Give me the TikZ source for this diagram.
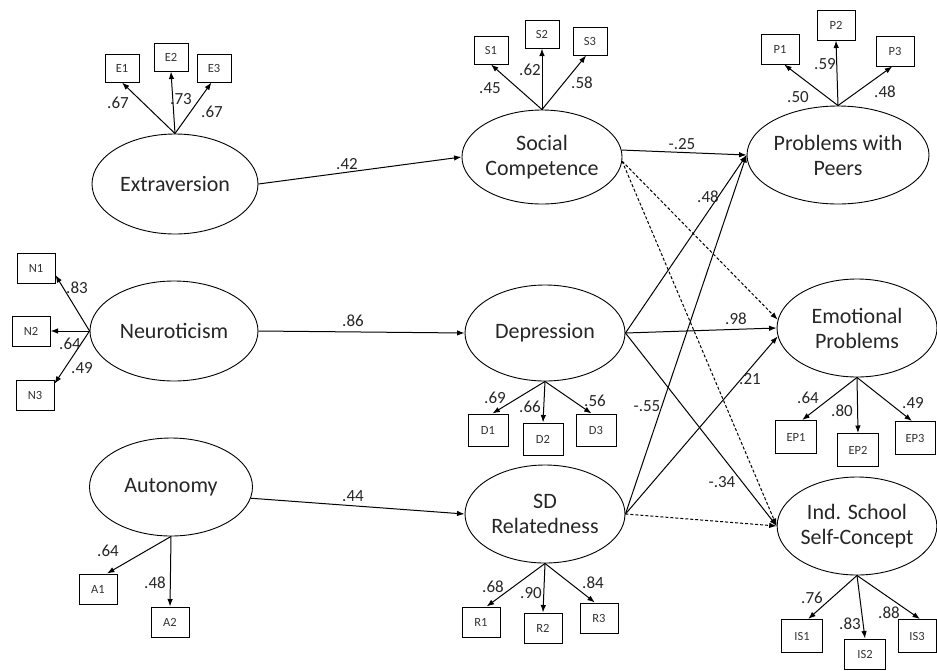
\documentclass[tikz,border=0pt]{standalone}
\usepackage{fontspec}
\setmainfont{Carlito}
\usetikzlibrary{arrows.meta,shapes.geometric}
\begin{document}
\begin{tikzpicture}[x=1pt,y=-1pt,
  lat/.style={draw, ellipse, inner sep=0pt, align=center, line width=0.9pt,
    text=black!85, font=\fontsize{22}{25}\selectfont},
  ind/.style={draw, rectangle, inner sep=0pt, line width=1pt, text=black!80,
    minimum width=38pt, minimum height=30pt, font=\fontsize{12.5}{14}\selectfont},
  sind/.style={ind, minimum width=34pt, minimum height=28pt},
  bind/.style={ind, minimum width=41pt, minimum height=33pt},
  lab/.style={inner sep=0pt, text=black!85, font=\fontsize{17}{19}\selectfont},
  arr/.style={-{Latex[length=7.5pt,width=5.5pt]}, line width=1pt},
  darr/.style={arr, dash pattern=on 3pt off 2pt}]
\useasboundingbox (0,0) rectangle (937,670);

% latent variables
\node[lat, minimum width=166pt, minimum height=100pt] (ext) at (175,184) {Extraversion};
\node[lat, minimum width=168pt, minimum height=100pt] (neu) at (174,331) {Neuroticism};
\node[lat, minimum width=163pt, minimum height=98pt] (aut) at (171,487) {Autonomy};
\node[lat, minimum width=160pt, minimum height=94pt] (sc) at (542,157) {Social\\Competence};
\node[lat, minimum width=160pt, minimum height=96pt] (dep) at (545,333) {Depression};
\node[lat, minimum width=160pt, minimum height=98pt] (sd) at (545,514) {SD\\Relatedness};
\node[lat, minimum width=162pt, minimum height=98pt] (pwp) at (838,155) {Problems with\\Peers};
\node[lat, minimum width=160pt, minimum height=98pt] (ep) at (857,328) {Emotional\\Problems};
\node[lat, minimum width=158pt, minimum height=98pt] (is) at (857,526) {Ind. School\\Self-Concept};

% indicators
\node[sind] (E1) at (122,68) {E1};
\node[sind] (E2) at (171,57) {E2};
\node[sind] (E3) at (214,68) {E3};
\node[sind] (S1) at (491,50) {S1};
\node[sind] (S2) at (542,34) {S2};
\node[sind] (S3) at (590,41) {S3};
\node[ind] (P1) at (780,49) {P1};
\node[ind] (P2) at (836,25) {P2};
\node[ind] (P3) at (895,51) {P3};
\node[ind] (N1) at (36,268) {N1};
\node[ind] (N2) at (31,331) {N2};
\node[ind] (N3) at (35,395) {N3};
\node[ind, minimum width=40pt, minimum height=32pt] (D1) at (488,430) {D1};
\node[ind, minimum width=40pt, minimum height=32pt] (D2) at (543,439) {D2};
\node[ind, minimum width=40pt, minimum height=32pt] (D3) at (596,430) {D3};
\node[ind] (A1) at (98,589) {A1};
\node[ind] (A2) at (170,622) {A2};
\node[ind] (R1) at (481,622) {R1};
\node[ind] (R2) at (543,628) {R2};
\node[ind] (R3) at (599,618) {R3};
\node[bind] (EP1) at (796,437) {EP1};
\node[bind] (EP2) at (858,450) {EP2};
\node[bind, minimum width=40pt] (EP3) at (915,438) {EP3};
\node[bind] (IS1) at (802,636) {IS1};
\node[bind, minimum height=30pt] (IS2) at (865,654) {IS2};
\node[bind, minimum width=38pt] (IS3) at (917,636) {IS3};

% loadings
\draw[arr] (ext.north) -- (E1.south);
\draw[arr] (ext.north) -- (E2.south);
\draw[arr] (ext.north) -- (E3.260);
\draw[arr] (sc.north) -- (S1.south);
\draw[arr] (sc.north) -- (S2.south);
\draw[arr] (sc.north) -- (S3.255);
\draw[arr] (pwp.north) -- (P1.285);
\draw[arr] (pwp.north) -- (P2.south);
\draw[arr] (pwp.north) -- (P3.260);
\draw[arr] (neu.west) -- (N1.340);
\draw[arr] (neu.west) -- (N2.east);
\draw[arr] (neu.west) -- (N3.30);
\draw[arr] (dep.south) -- (D1.75);
\draw[arr] (dep.south) -- (D2.north);
\draw[arr] (dep.south) -- (D3.105);
\draw[arr] (aut.south) -- (A1.60);
\draw[arr] (aut.south) -- (A2.north);
\draw[arr] (sd.south) -- (R1.70);
\draw[arr] (sd.south) -- (R2.north);
\draw[arr] (sd.south) -- (R3.105);
\draw[arr] (ep.south) -- (EP1.70);
\draw[arr] (ep.south) -- (EP2.north);
\draw[arr] (ep.south) -- (EP3.100);
\draw[arr] (is.south) -- (IS1.70);
\draw[arr] (is.south) -- (IS2.north);
\draw[arr] (is.south) -- (IS3.80);

% loading labels
\node[lab] (lE1) at (118,103) {.67};
\node[lab] (lE2) at (181,99) {.73};
\node[lab] (lE3) at (212,112) {.67};
\node[lab] (lS1) at (490,88) {.45};
\node[lab] (lS2) at (530,70) {.62};
\node[lab] (lS3) at (582,83) {.58};
\node[lab] (lP1) at (798,97) {.50};
\node[lab] (lP2) at (825,64) {.59};
\node[lab] (lP3) at (885,92) {.48};
\node[lab] (lN1) at (77,288) {.83};
\node[lab] (lN2) at (70,344) {.64};
\node[lab] (lN3) at (82,368) {.49};
\node[lab] (lD1) at (495,398) {.69};
\node[lab] (lD2) at (530,407) {.66};
\node[lab] (lD3) at (595,401) {.56};
\node[lab] (lA1) at (108,551) {.64};
\node[lab] (lA2) at (155,583) {.48};
\node[lab] (lR1) at (493,587) {.68};
\node[lab] (lR2) at (531,593) {.90};
\node[lab] (lR3) at (593,583) {.84};
\node[lab] (lEP1) at (808,398) {.64};
\node[lab] (lEP2) at (842,411) {.80};
\node[lab] (lEP3) at (913,403) {.49};
\node[lab] (lIS1) at (812,598) {.76};
\node[lab] (lIS2) at (850,624) {.83};
\node[lab] (lIS3) at (889,613) {.88};

% structural paths
\draw[arr] (ext.east) -- (sc.west);
\draw[arr] (neu.east) -- (dep.west);
\draw[arr] (aut.-8) -- (sd.west);
\draw[arr] (sc.5) -- (pwp.west);
\draw[darr] (sc.-3) -- (ep.174);
\draw[darr] (sc.-3) -- (is.west);
\draw[arr] (dep.east) -- (pwp.west);
\draw[arr] (dep.east) -- (ep.west);
\draw[arr] (dep.east) -- (is.west);
\draw[arr] (sd.east) -- (pwp.west);
\draw[arr] (sd.east) -- (ep.186);
\draw[darr] (sd.east) -- (is.west);

% structural labels
\node[lab] (l42) at (347,164) {.42};
\node[lab] (l86) at (353,321) {.86};
\node[lab] (l44) at (353,496) {.44};
\node[lab] (l25) at (682,144) {-.25};
\node[lab] (l48) at (708,197) {.48};
\node[lab] (l98) at (736,319) {.98};
\node[lab] (l55) at (647,406) {-.55};
\node[lab] (l21) at (750,379) {.21};
\node[lab] (l34) at (722,482) {-.34};
\end{tikzpicture}
\end{document}
